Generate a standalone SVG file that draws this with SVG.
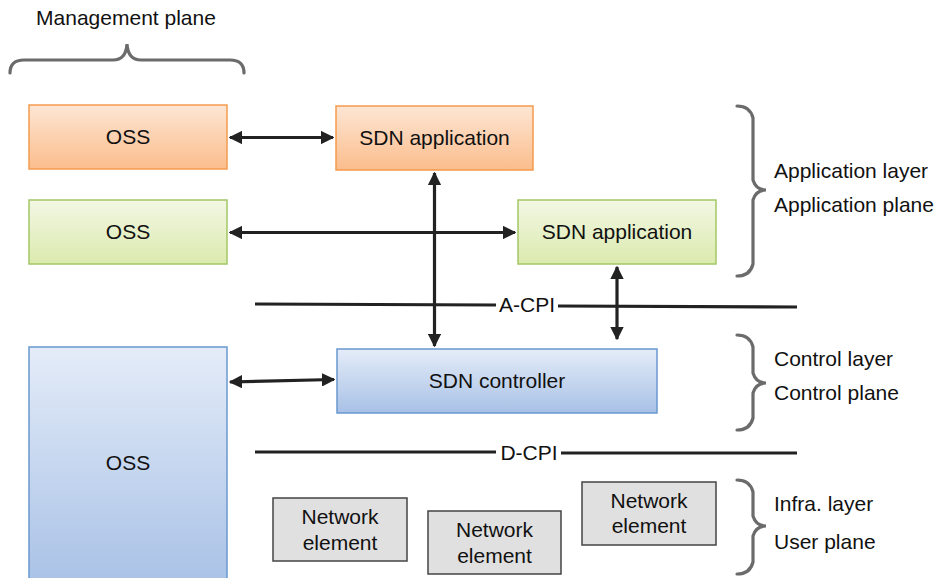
<svg xmlns="http://www.w3.org/2000/svg" width="937" height="578" viewBox="0 0 937 578">
  <defs>
    <linearGradient id="gOrange" x1="0" y1="0" x2="0" y2="1">
      <stop offset="0" stop-color="#fde6d4"/>
      <stop offset="1" stop-color="#fbbd8c"/>
    </linearGradient>
    <linearGradient id="gGreen" x1="0" y1="0" x2="0" y2="1">
      <stop offset="0" stop-color="#f3f7e4"/>
      <stop offset="1" stop-color="#dbeaae"/>
    </linearGradient>
    <linearGradient id="gBlue" x1="0" y1="0" x2="0" y2="1">
      <stop offset="0" stop-color="#e4ecf8"/>
      <stop offset="1" stop-color="#a8c1e6"/>
    </linearGradient>
    <marker id="ah" viewBox="0 0 10 10" refX="9" refY="5" markerWidth="4.2" markerHeight="4.2" orient="auto-start-reverse" markerUnits="strokeWidth">
      <path d="M0,0 L10,5 L0,10 Z" fill="#222"/>
    </marker>
  </defs>
  <style>
    text { font-family: "Liberation Sans", Arial, sans-serif; font-size: 21px; fill: #111; }
    .c { text-anchor: middle; }
    .orange { fill: url(#gOrange); stroke: #f59a4e; stroke-width: 1.5; }
    .green { fill: url(#gGreen); stroke: #a3c865; stroke-width: 1.5; }
    .blue { fill: url(#gBlue); stroke: #6a98d0; stroke-width: 1.5; }
    .ne { fill: #e0e0e0; stroke: #444; stroke-width: 1.5; }
    .brace { fill: none; stroke: #6b6b6b; stroke-width: 3.2; stroke-linecap: round; }
    .link { fill: none; stroke: #222; stroke-width: 3.2; }
    .iface { fill: none; stroke: #222; stroke-width: 3.2; }
  </style>

  <!-- management plane brace -->
  <g id="mgmt-plane">
    <text x="126" y="25" class="c">Management plane</text>
    <path class="brace" d="M10,73 Q10,60 24,60 L113,60 Q126,60 127,44 Q128,60 141,60 L230,60 Q244,60 244,73"/>
  </g>

  <!-- interface lines -->
  <g id="a-cpi">
    <path class="iface" d="M255,304 L496,305 M558,306 L797,307"/>
    <text x="527" y="312" class="c">A-CPI</text>
  </g>
  <g id="d-cpi">
    <path class="iface" d="M255,452 L496,452 M561,453 L797,453"/>
    <text x="529" y="460" class="c">D-CPI</text>
  </g>

  <!-- nodes -->
  <g id="oss-1">
    <rect class="orange" x="29" y="105" width="198" height="64"/>
    <text x="128" y="144" class="c">OSS</text>
  </g>
  <g id="sdn-app-1">
    <rect class="orange" x="336" y="106" width="197" height="64"/>
    <text x="434.5" y="145" class="c">SDN application</text>
  </g>
  <g id="oss-2">
    <rect class="green" x="29" y="200" width="198" height="64"/>
    <text x="128" y="239" class="c">OSS</text>
  </g>
  <g id="sdn-app-2">
    <rect class="green" x="518" y="200" width="198" height="64"/>
    <text x="617" y="239" class="c">SDN application</text>
  </g>
  <g id="oss-3">
    <rect class="blue" x="29" y="347" width="198" height="240"/>
    <text x="128" y="470" class="c">OSS</text>
  </g>
  <g id="sdn-controller">
    <rect class="blue" x="337" y="349" width="320" height="64"/>
    <text x="497" y="388" class="c">SDN controller</text>
  </g>
  <g id="ne-1">
    <rect class="ne" x="273" y="498" width="134" height="63"/>
    <text x="340" y="524" class="c">Network</text>
    <text x="340" y="550" class="c">element</text>
  </g>
  <g id="ne-2">
    <rect class="ne" x="428" y="511" width="133" height="63"/>
    <text x="494.5" y="537" class="c">Network</text>
    <text x="494.5" y="563" class="c">element</text>
  </g>
  <g id="ne-3">
    <rect class="ne" x="582" y="482" width="134" height="63"/>
    <text x="649" y="508" class="c">Network</text>
    <text x="649" y="533" class="c">element</text>
  </g>

  <!-- connectors -->
  <g id="connectors">
    <path class="link" d="M230,137.5 L333,137.5" marker-start="url(#ah)" marker-end="url(#ah)"/>
    <path class="link" d="M230,232.5 L515,232.5" marker-start="url(#ah)" marker-end="url(#ah)"/>
    <path class="link" d="M434.5,173 L434.5,346" marker-start="url(#ah)" marker-end="url(#ah)"/>
    <path class="link" d="M617,267 L617,339" marker-start="url(#ah)" marker-end="url(#ah)"/>
    <path class="link" d="M230,382 L334,379.5" marker-start="url(#ah)" marker-end="url(#ah)"/>
  </g>

  <!-- layer braces -->
  <g id="app-layer">
    <path class="brace" d="M737,106 Q750,106 753,118 L753,180 Q756,190 766,190 Q756,190 753,200 L753,264 Q750,276 737,276"/>
    <text x="774" y="178">Application layer</text>
    <text x="774" y="212">Application plane</text>
  </g>
  <g id="control-layer">
    <path class="brace" d="M737,335 Q750,335 753,347 L753,373 Q756,383 766,383 Q756,383 753,393 L753,418 Q750,430 737,430"/>
    <text x="774" y="366">Control layer</text>
    <text x="774" y="400">Control plane</text>
  </g>
  <g id="infra-layer">
    <path class="brace" d="M737,480 Q750,480 753,492 L753,516 Q756,526 766,526 Q756,526 753,536 L753,562 Q750,574 737,574"/>
    <text x="774" y="511">Infra. layer</text>
    <text x="774" y="549">User plane</text>
  </g>
</svg>
